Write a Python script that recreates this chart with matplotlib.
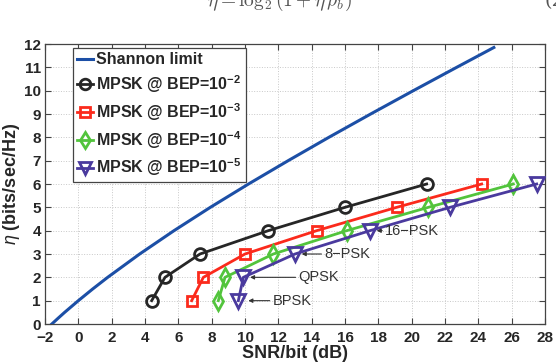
import matplotlib
matplotlib.use("Agg")
import matplotlib.pyplot as plt
from matplotlib import font_manager as fm

# ---------------- data ----------------
shannon_eta = [0, 0.25, 0.5, 1, 1.5, 2, 3, 4, 5, 6, 7, 8, 9, 10, 11, 11.85]
shannon_snr = [-1.59, -1.21, -0.82, 0.0, 0.86, 1.76, 3.68, 5.74, 7.92, 10.21,
               12.59, 15.03, 17.54, 20.10, 22.70, 24.93]

eta_mpsk = [1, 2, 3, 4, 5, 6]
snr_bep2 = [4.4, 5.2, 7.3, 11.4, 16.0, 20.9]
snr_bep3 = [6.8, 7.5, 10.0, 14.3, 19.1, 24.2]
snr_bep4 = [8.4, 8.8, 11.7, 16.1, 21.0, 26.1]
snr_bep5 = [9.6, 9.9, 13.0, 17.5, 22.3, 27.5]

labels = ["Shannon limit",
          r"MPSK @ BEP=10$^{\mathbf{-2}}$",
          r"MPSK @ BEP=10$^{\mathbf{-3}}$",
          r"MPSK @ BEP=10$^{\mathbf{-4}}$",
          r"MPSK @ BEP=10$^{\mathbf{-5}}$"]

annot_text = ["BPSK", "QPSK", "8\u2212PSK", "16\u2212PSK"]
annot_pt = [(10.2, 1), (10.3, 2), (13.4, 3), (17.9, 4)]
annot_txt = [(11.65, 1), (13.2, 2), (14.75, 3), (18.4, 4)]

xticks = list(range(-2, 29, 2))
yticks = list(range(0, 13))

# ---------------- fonts ----------------
def has_font(name):
    try:
        fm.findfont(fm.FontProperties(family=name), fallback_to_default=False)
        return True
    except Exception:
        return False

main_font = "Liberation Sans" if has_font("Liberation Sans") else "DejaVu Sans"
narrow_font = "Liberation Sans Narrow" if has_font("Liberation Sans Narrow") else main_font
plt.rcParams['font.family'] = [main_font, 'DejaVu Sans']
plt.rcParams['mathtext.fontset'] = 'custom'
plt.rcParams['mathtext.rm'] = main_font
plt.rcParams['mathtext.bf'] = main_font + ':bold'
plt.rcParams['mathtext.it'] = main_font + ':italic'

fig = plt.figure(figsize=(5.56, 3.63), dpi=100)
ax = fig.add_axes([45/556, 39/363, 500/556, 280/363])

c_blue = "#1c4fa6"
c_black = "#262626"
c_red = "#fb2a1c"
c_green = "#52c43c"
c_purple = "#4a3a9e"

ax.plot(shannon_snr, shannon_eta, color=c_blue, lw=2.2, label=labels[0], zorder=3)
ax.plot(snr_bep2, eta_mpsk, color=c_black, lw=2.0, marker='o', ms=8.5, mew=2.0,
        mfc='none', label=labels[1], zorder=4)
ax.plot(snr_bep3, eta_mpsk, color=c_red, lw=2.0, marker='s', ms=7.5, mew=2.0,
        mfc='none', label=labels[2], zorder=4)
ax.plot(snr_bep4, eta_mpsk, color=c_green, lw=2.0, marker='d', ms=9, mew=2.0,
        mfc='none', label=labels[3], zorder=4)
ax.plot(snr_bep5, eta_mpsk, color=c_purple, lw=2.0, marker='v', ms=10, mew=2.0,
        mfc='none', label=labels[4], zorder=4)

for t, p, q in zip(annot_text, annot_pt, annot_txt):
    ax.annotate(t, xy=p, xytext=q, ha='left', va='center', fontsize=10.5,
                color='#333333',
                arrowprops=dict(arrowstyle='-|>', color='#333333', lw=0.8,
                                mutation_scale=6, shrinkA=0, shrinkB=0),
                zorder=5)

ax.set_xlim(-2, 28)
ax.set_ylim(0, 12)
ax.set_xticks(xticks)
ax.set_yticks(yticks)
ax.set_xticklabels([("\u2212" + str(-v)) if v < 0 else str(v) for v in xticks])
ax.grid(True, linestyle=':', color='#c8c8c8', lw=0.7)
ax.tick_params(direction='in', top=True, right=True, length=4, width=0.8,
               color='#444444')
ax.tick_params(axis='x', pad=5)
ax.tick_params(axis='y', pad=3)
for lab in ax.get_xticklabels() + ax.get_yticklabels():
    lab.set_fontfamily(narrow_font)
    lab.set_fontweight('bold')
    lab.set_fontsize(11)
    lab.set_color('#262626')
for s in ax.spines.values():
    s.set_color('#444444')
    s.set_linewidth(0.9)

ax.set_xlabel("SNR/bit (dB)", fontsize=13, fontweight='bold', color='#262626', labelpad=0)
ax.set_ylabel(r"$\eta$ (bits/sec/Hz)", fontsize=13, fontweight='bold', color='#262626',
              labelpad=1)

leg = ax.legend(loc='upper left', bbox_to_anchor=(0.056, 0.985),
                prop={'weight': 'bold', 'size': 11.5, 'family': main_font},
                handlelength=1.0, handletextpad=0.2, borderpad=0.25,
                labelspacing=0.38, borderaxespad=0.0, fancybox=False,
                framealpha=1.0, edgecolor='#444444', markerscale=0.9)
leg.get_frame().set_linewidth(0.9)
for txt in leg.get_texts():
    txt.set_color('#262626')

# partially visible text from the page above the figure
fig.text(207/556, 1 - 6/363, r"$\eta = \log_2(1+\eta\,\rho_b)$", fontsize=14,
         ha='left', va='baseline', color='#555555',
         math_fontfamily='cm')
fig.text(544/556, 1 - 6/363, "(2", fontsize=14, ha='left', va='baseline',
         color='#555555', family='DejaVu Serif')

fig.savefig("out.png", dpi=100)
